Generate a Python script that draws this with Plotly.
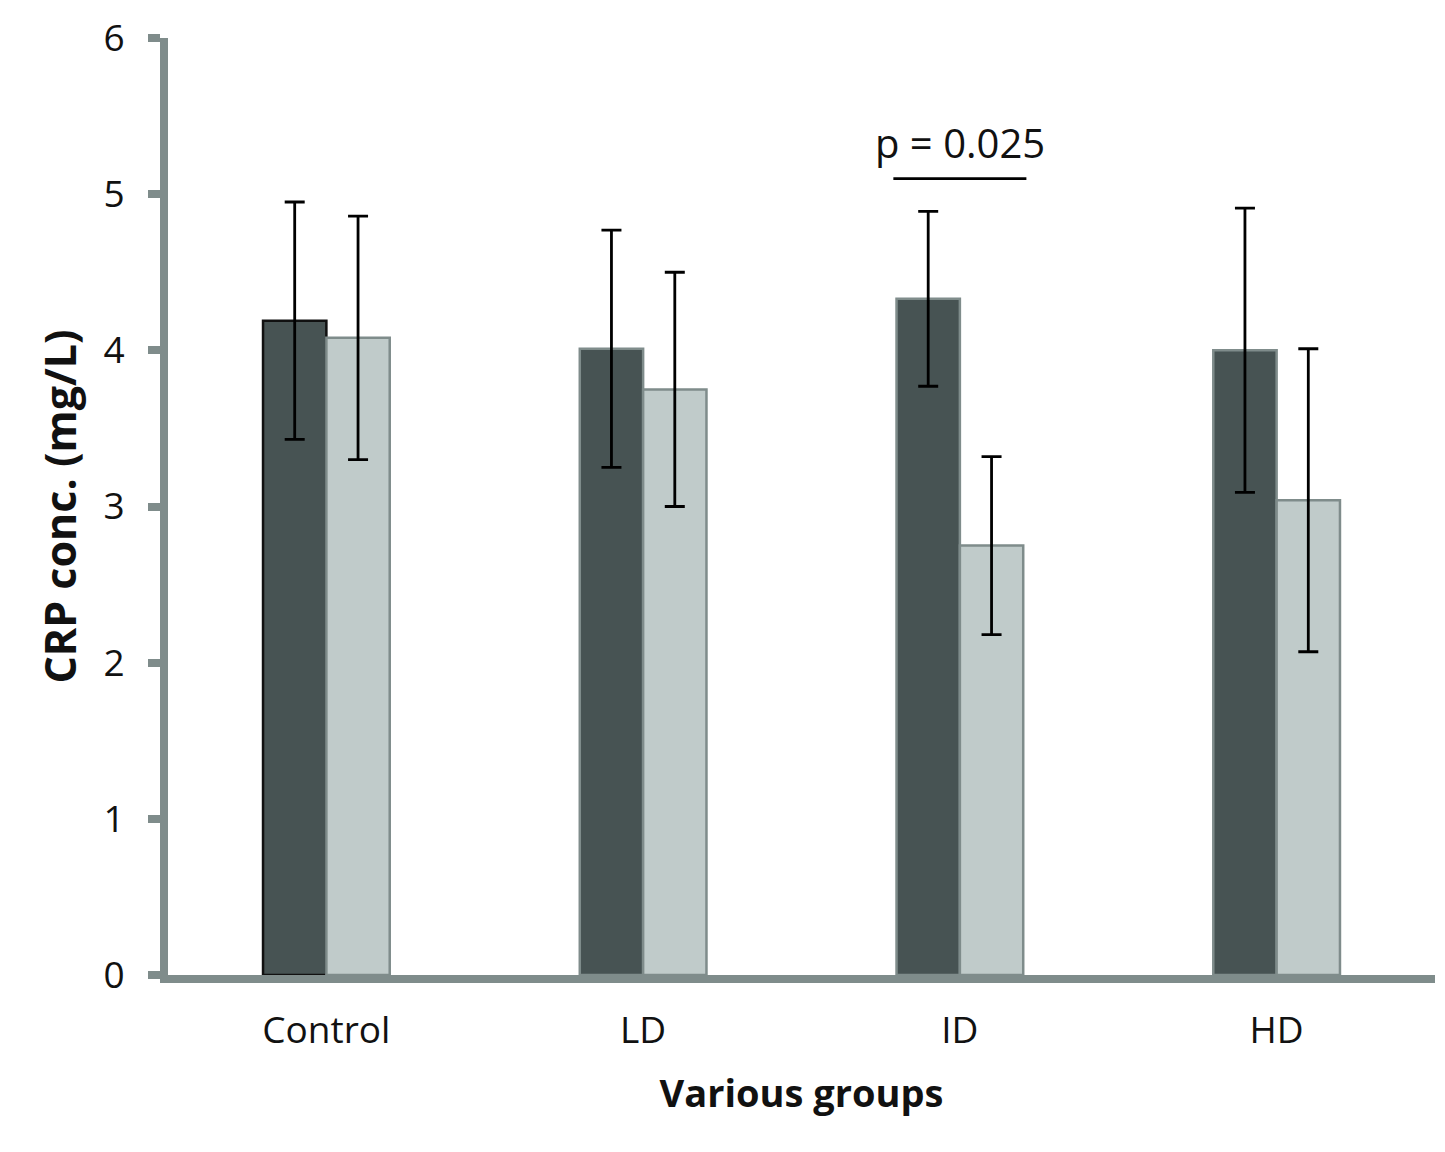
import plotly.graph_objects as go

groups = ["Control", "LD", "ID", "HD"]
dark_vals = [4.19, 4.01, 4.33, 4.00]
dark_err = [0.76, 0.76, 0.56, 0.91]
light_vals = [4.08, 3.75, 2.75, 3.04]
light_err = [0.78, 0.75, 0.57, 0.97]
y_ticks = [0, 1, 2, 3, 4, 5, 6]
p_label = "p = 0.025"
p_y_line = 5.10
p_y_text = 5.33

axis_col = "#7f8c8b"
font_fam = "Open Sans, sans-serif"

fig = go.Figure()
fig.add_trace(go.Bar(
    x=groups, y=dark_vals, name="dark",
    marker=dict(color="#475353",
                line=dict(color=["#111111", axis_col, axis_col, axis_col], width=2.5)),
    error_y=dict(type="data", array=dark_err, visible=True, color="#000000",
                 thickness=2.8, width=10),
))
fig.add_trace(go.Bar(
    x=groups, y=light_vals, name="light",
    marker=dict(color="#c0cbca", line=dict(color=axis_col, width=2.5)),
    error_y=dict(type="data", array=light_err, visible=True, color="#000000",
                 thickness=2.8, width=10),
))

fig.add_shape(type="line", xref="x", yref="y", x0=1.79, x1=2.21,
              y0=p_y_line, y1=p_y_line, line=dict(color="#000000", width=2.8))
fig.add_annotation(x=2, y=p_y_text, xref="x", yref="y", text=p_label,
                   showarrow=False, font=dict(size=40, color="#111111", family=font_fam))

fig.update_layout(
    width=1445, height=1152,
    margin=dict(l=160, r=18, t=30, b=185),
    paper_bgcolor="white", plot_bgcolor="white",
    barmode="group", bargap=0.6, bargroupgap=0,
    showlegend=False,
    font=dict(family=font_fam, color="#111111"),
)
fig.update_xaxes(
    showline=True, linecolor=axis_col, linewidth=8, ticks="",
    tickfont=dict(size=37, family=font_fam, color="#111111"),
    ticklabelstandoff=16, automargin=False,
    title=dict(text="<b>Various groups</b>", font=dict(size=38, family=font_fam, color="#111111"),
               standoff=30),
    showgrid=False, zeroline=False,
)
fig.update_yaxes(
    range=[0, 6], tickvals=y_ticks, showline=True, linecolor=axis_col, linewidth=8,
    ticks="outside", ticklen=12, tickwidth=8, tickcolor=axis_col,
    tickfont=dict(size=37, family=font_fam, color="#111111"),
    ticklabelstandoff=16, automargin=False,
    title=dict(text="<b>CRP conc. (mg/L)</b>", font=dict(size=43, family=font_fam, color="#111111"),
               standoff=16),
    showgrid=False, zeroline=False,
)
fig.write_html("out.html")
